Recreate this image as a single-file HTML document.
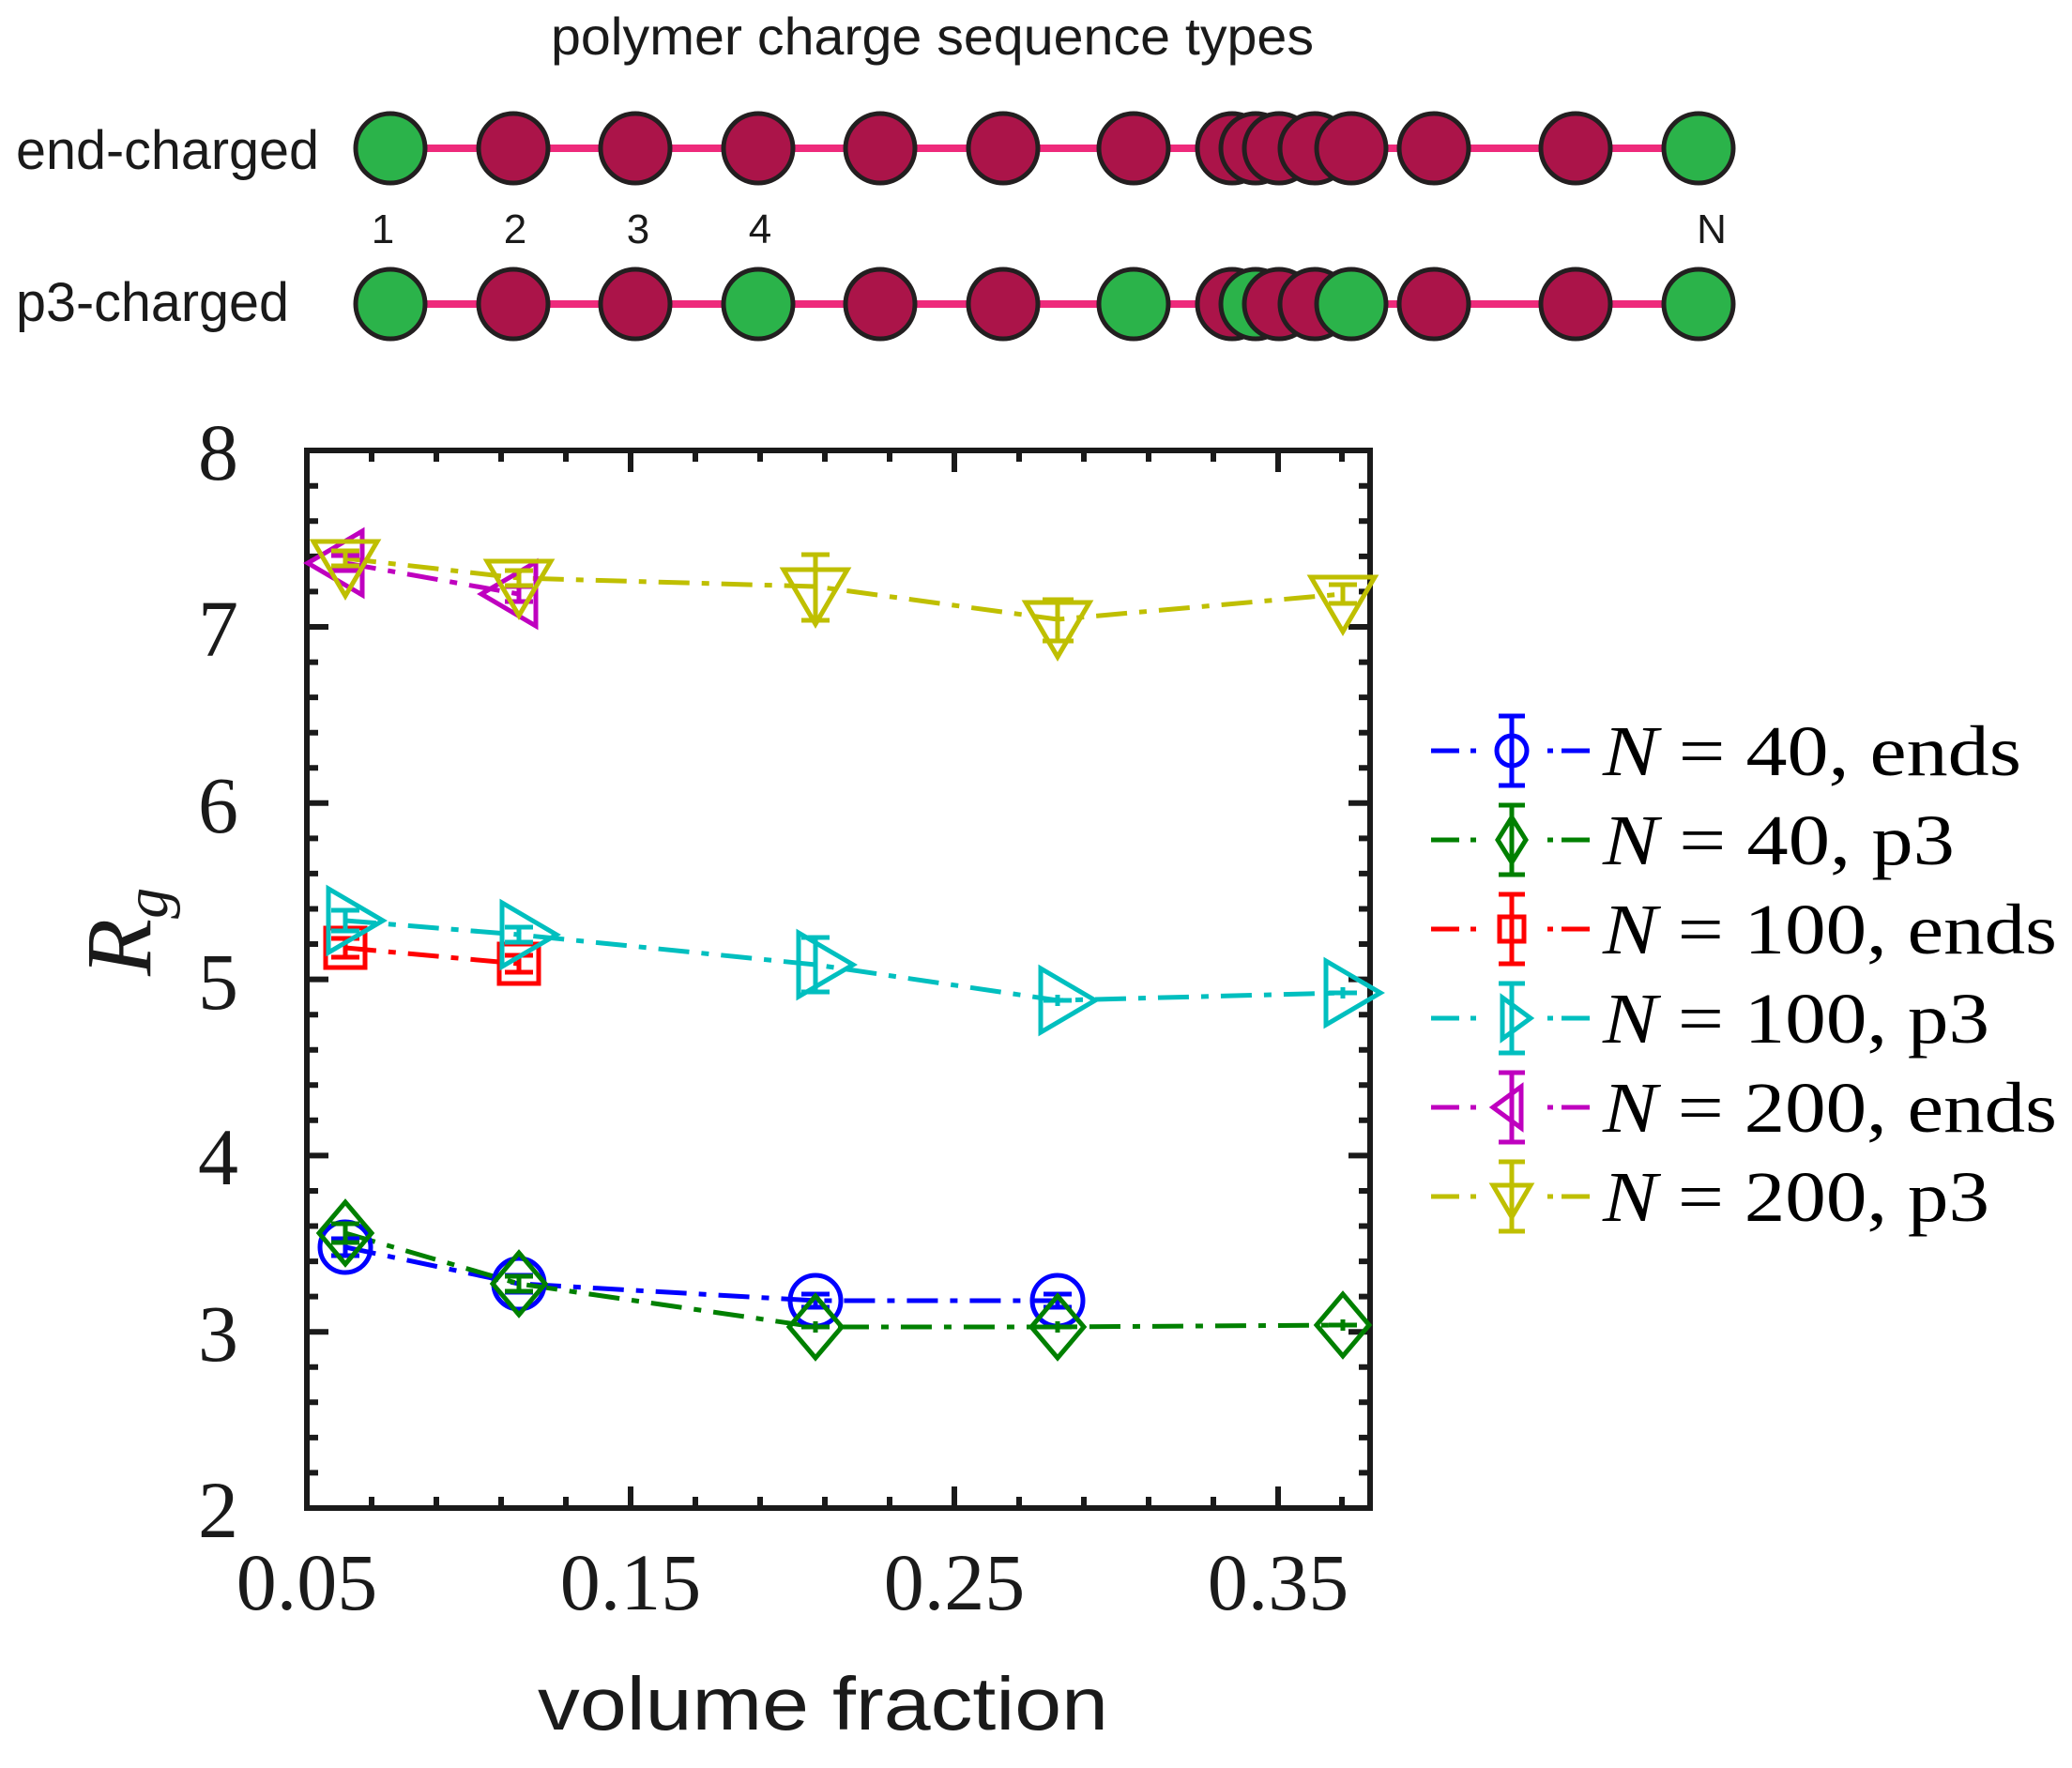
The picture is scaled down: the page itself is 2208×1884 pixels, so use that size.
<!DOCTYPE html>
<html><head><meta charset="utf-8"><style>html,body{margin:0;padding:0;background:#fff}svg{display:block}</style></head>
<body>
<svg width="2208" height="1884" viewBox="0 0 2208 1884" xmlns="http://www.w3.org/2000/svg">
<rect width="2208" height="1884" fill="#fff"/>
<g font-family="Liberation Sans, DejaVu Sans, sans-serif" fill="#1a1a1a">
<text x="587" y="58" font-size="56" textLength="813" lengthAdjust="spacingAndGlyphs">polymer charge sequence types</text>
<text x="17" y="180" font-size="58" textLength="323" lengthAdjust="spacingAndGlyphs">end-charged</text>
<text x="17" y="342" font-size="58" textLength="291" lengthAdjust="spacingAndGlyphs">p3-charged</text>
<g font-size="44" text-anchor="middle">
<text x="408" y="259">1</text><text x="549" y="259">2</text><text x="680" y="259">3</text><text x="810" y="259">4</text><text x="1824" y="259">N</text>
</g>
</g>
<g stroke="#ee2a7b" stroke-width="8">
<line x1="416" y1="158" x2="1810" y2="158"/>
<line x1="416" y1="324" x2="1810" y2="324"/>
</g>
<g stroke="#231f20" stroke-width="5">
<g transform="translate(0,158)">
<circle cx="416" r="37" fill="#2bb34a"/><circle cx="547" r="37" fill="#ab1449"/><circle cx="677" r="37" fill="#ab1449"/><circle cx="808" r="37" fill="#ab1449"/><circle cx="938" r="37" fill="#ab1449"/><circle cx="1069" r="37" fill="#ab1449"/><circle cx="1208" r="37" fill="#ab1449"/><circle cx="1313" r="37" fill="#ab1449"/><circle cx="1338" r="37" fill="#ab1449"/><circle cx="1363" r="37" fill="#ab1449"/><circle cx="1401" r="37" fill="#ab1449"/><circle cx="1440" r="37" fill="#ab1449"/><circle cx="1528" r="37" fill="#ab1449"/><circle cx="1679" r="37" fill="#ab1449"/><circle cx="1810" r="37" fill="#2bb34a"/>
</g>
<g transform="translate(0,324)">
<circle cx="416" r="37" fill="#2bb34a"/><circle cx="547" r="37" fill="#ab1449"/><circle cx="677" r="37" fill="#ab1449"/><circle cx="808" r="37" fill="#2bb34a"/><circle cx="938" r="37" fill="#ab1449"/><circle cx="1069" r="37" fill="#ab1449"/><circle cx="1208" r="37" fill="#2bb34a"/><circle cx="1313" r="37" fill="#ab1449"/><circle cx="1338" r="37" fill="#2bb34a"/><circle cx="1363" r="37" fill="#ab1449"/><circle cx="1401" r="37" fill="#ab1449"/><circle cx="1440" r="37" fill="#2bb34a"/><circle cx="1528" r="37" fill="#ab1449"/><circle cx="1679" r="37" fill="#ab1449"/><circle cx="1810" r="37" fill="#2bb34a"/>
</g>
</g>

<g stroke="#1a1a1a" stroke-width="6" fill="none">
<path d="M396,1607v-12M465,1607v-12M534,1607v-12M603,1607v-12M741,1607v-12M810,1607v-12M879,1607v-12M948,1607v-12M1086,1607v-12M1155,1607v-12M1224,1607v-12M1293,1607v-12M1430,1607v-12"/>
<path d="M396,480v12M465,480v12M534,480v12M603,480v12M741,480v12M810,480v12M879,480v12M948,480v12M1086,480v12M1155,480v12M1224,480v12M1293,480v12M1430,480v12"/>
<path d="M672,1607v-23M1017,1607v-23M1362,1607v-23M672,480v23M1017,480v23M1362,480v23"/>
</g>
<rect x="327" y="480" width="1133" height="1127" fill="none" stroke="#1a1a1a" stroke-width="6"/>
<g stroke="#1a1a1a" stroke-width="6">
<path d="M327,1569.4h12M327,1531.9h12M327,1494.3h12M327,1456.8h12M327,1381.6h12M327,1344.1h12M327,1306.5h12M327,1269h12M327,1193.8h12M327,1156.3h12M327,1118.7h12M327,1081.2h12M327,1006h12M327,968.5h12M327,930.9h12M327,893.4h12M327,818.2h12M327,780.7h12M327,743.1h12M327,705.6h12M327,630.4h12M327,592.9h12M327,555.3h12M327,517.8h12"/>
<path d="M1460,1569.4h-12M1460,1531.9h-12M1460,1494.3h-12M1460,1456.8h-12M1460,1381.6h-12M1460,1344.1h-12M1460,1306.5h-12M1460,1269h-12M1460,1193.8h-12M1460,1156.3h-12M1460,1118.7h-12M1460,1081.2h-12M1460,1006h-12M1460,968.5h-12M1460,930.9h-12M1460,893.4h-12M1460,818.2h-12M1460,780.7h-12M1460,743.1h-12M1460,705.6h-12M1460,630.4h-12M1460,592.9h-12M1460,555.3h-12M1460,517.8h-12"/>
<path d="M327,1419.2h23M327,1231.4h23M327,1043.6h23M327,855.8h23M327,668h23M1460,1419.2h-23M1460,1231.4h-23M1460,1043.6h-23M1460,855.8h-23M1460,668h-23"/>
</g>
<g font-family="Liberation Serif, DejaVu Serif, serif" font-size="86" fill="#1a1a1a">
<g text-anchor="end">
<text x="254" y="511">8</text><text x="254" y="699">7</text><text x="254" y="887">6</text><text x="254" y="1075">5</text><text x="254" y="1262">4</text><text x="254" y="1450">3</text><text x="254" y="1638">2</text>
</g>
<g text-anchor="middle">
<text x="327" y="1715">0.05</text><text x="672" y="1715">0.15</text><text x="1017" y="1715">0.25</text><text x="1362" y="1715">0.35</text>
</g>
<text transform="translate(160,1040) rotate(-90)" font-size="100" font-style="italic">R<tspan font-size="66" dy="18">g</tspan></text>
</g>
<text x="573" y="1843" font-family="Liberation Sans, DejaVu Sans, sans-serif" font-size="80" fill="#1a1a1a" textLength="608" lengthAdjust="spacingAndGlyphs">volume fraction</text>

<g fill="none" stroke-width="5" stroke-dasharray="33,13,8,13">
<polyline stroke="#0000ff" points="368,1329 553,1368 869,1386 1127,1386"/>
<polyline stroke="#008000" points="368,1314 553,1368 869,1414 1127,1414 1431,1412"/>
<polyline stroke="#ff0000" points="368,1010 553,1027"/>
<polyline stroke="#00bfbf" points="368,981 553,996 869,1028 1127,1066 1431,1058"/>
<polyline stroke="#bf00bf" points="368,600 553,633"/>
<polyline stroke="#bfbf00" points="368,595 553,616 869,625 1127,660 1431,633"/>
</g>
<g fill="none" stroke-width="5">
<g stroke="#0000ff">
<circle cx="368" cy="1329" r="27"/><circle cx="553" cy="1368" r="27"/><circle cx="869" cy="1386" r="27"/><circle cx="1127" cy="1386" r="27"/>
<path d="M368,1320v18M353,1320h30M353,1338h30M553,1359v18M538,1359h30M538,1377h30M869,1379v14M854,1379h30M854,1393h30M1127,1379v14M1112,1379h30M1112,1393h30"/>
</g>
<g stroke="#008000">
<path d="M368,1281l28,33l-28,33l-28,-33z M553,1335l28,33l-28,33l-28,-33z M869,1381l28,33l-28,33l-28,-33z M1127,1381l28,33l-28,33l-28,-33z M1431,1379l28,33l-28,33l-28,-33z"/>
<path d="M368,1304v20M353,1304h30M353,1324h30M553,1360v16M538,1360h30M538,1376h30M869,1408v12M854,1414h30M1127,1408v12M1112,1414h30M1431,1406v12M1416,1412h30"/>
</g>
<g stroke="#ff0000">
<rect x="347" y="989" width="42" height="42"/><rect x="532" y="1006" width="42" height="42"/>
<path d="M368,1000v20M353,1000h30M353,1020h30M553,1018v18M538,1018h30M538,1036h30"/>
</g>
<g stroke="#00bfbf">
<path d="M350,947l58,34l-58,34z M535,962l58,34l-58,34z M851,994l58,34l-58,34z M1109,1032l58,34l-58,34z M1413,1024l58,34l-58,34z"/>
<path d="M368,970v22M353,970h30M353,992h30M553,988v16M538,988h30M538,1004h30M869,999v58M854,999h30M854,1057h30M1127,1060v12M1112,1066h30M1431,1052v12M1416,1058h30"/>
</g>
<g stroke="#bf00bf">
<path d="M386,566l-58,34l58,34z M571,599l-58,34l58,34z"/>
<path d="M368,592v16M353,592h30M353,608h30M553,625v16M538,625h30M538,641h30"/>
</g>
<g stroke="#bfbf00">
<path d="M334,577h68l-34,58z M519,598h68l-34,58z M835,607h68l-34,58z M1093,642h68l-34,58z M1397,615h68l-34,58z"/>
<path d="M368,587v16M353,587h30M353,603h30M553,608v16M538,608h30M538,624h30M869,591v70M854,591h30M854,661h30M1127,639v44M1111,639h33M1111,683h33M1431,623v20M1416,623h30M1416,643h30"/>
</g>
</g>

<g stroke-width="5" fill="none" transform="translate(-6,-8)">
<g stroke="#0000ff" transform="translate(0,808)">
<path d="M1531,0h30M1573,0h6M1655,0h6M1670,0h30"/><circle cx="1617" cy="0" r="16"/><path d="M1617,-37v74M1603,-37h28M1603,37h28"/></g>
<g stroke="#008000" transform="translate(0,903)">
<path d="M1531,0h30M1573,0h6M1655,0h6M1670,0h30"/><path d="M1617,-24l15,24l-15,24l-15,-24z"/><path d="M1617,-37v74M1603,-37h28M1603,37h28"/></g>
<g stroke="#ff0000" transform="translate(0,998)">
<path d="M1531,0h30M1573,0h6M1655,0h6M1670,0h30"/><rect x="1604" y="-13" width="26" height="26"/><path d="M1617,-37v74M1603,-37h28M1603,37h28"/></g>
<g stroke="#00bfbf" transform="translate(0,1093)">
<path d="M1531,0h30M1573,0h6M1655,0h6M1670,0h30"/><path d="M1607,-22l30,22l-30,22z"/><path d="M1617,-37v74M1603,-37h28M1603,37h28"/></g>
<g stroke="#bf00bf" transform="translate(0,1188)">
<path d="M1531,0h30M1573,0h6M1655,0h6M1670,0h30"/><path d="M1627,-22l-30,22l30,22z"/><path d="M1617,-37v74M1603,-37h28M1603,37h28"/></g>
<g stroke="#bfbf00" transform="translate(0,1283)">
<path d="M1531,0h30M1573,0h6M1655,0h6M1670,0h30"/><path d="M1597,-12h40l-20,34z"/><path d="M1617,-37v74M1603,-37h28M1603,37h28"/></g>
</g>
<g font-family="Liberation Serif, DejaVu Serif, serif" font-size="76" fill="#000" transform="translate(-8,-8)">
<text x="1716" y="834" textLength="446" lengthAdjust="spacingAndGlyphs"><tspan font-style="italic">N</tspan> = 40, ends</text>
<text x="1716" y="929" textLength="375" lengthAdjust="spacingAndGlyphs"><tspan font-style="italic">N</tspan> = 40, p3</text>
<text x="1716" y="1024" textLength="484" lengthAdjust="spacingAndGlyphs"><tspan font-style="italic">N</tspan> = 100, ends</text>
<text x="1716" y="1119" textLength="412" lengthAdjust="spacingAndGlyphs"><tspan font-style="italic">N</tspan> = 100, p3</text>
<text x="1716" y="1214" textLength="484" lengthAdjust="spacingAndGlyphs"><tspan font-style="italic">N</tspan> = 200, ends</text>
<text x="1716" y="1309" textLength="412" lengthAdjust="spacingAndGlyphs"><tspan font-style="italic">N</tspan> = 200, p3</text>
</g>
</svg>
</body></html>
